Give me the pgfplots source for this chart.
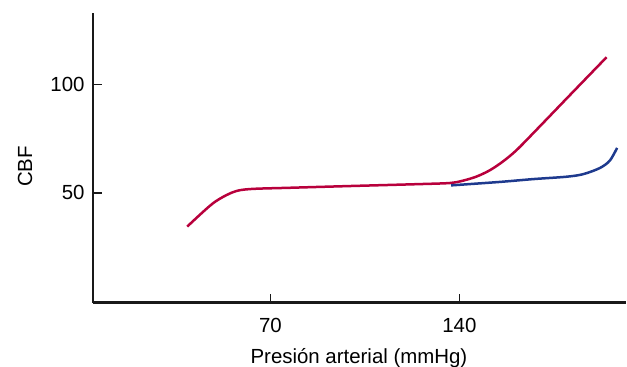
\documentclass[border=0pt]{standalone}
\usepackage{pgfplots}
\pgfplotsset{compat=1.18}
\usepackage{fontspec}
\setmainfont{Liberation Sans}
\definecolor{cred}{HTML}{B8003C}
\definecolor{cblue}{HTML}{1E3A8E}
\begin{document}
\begin{tikzpicture}
\begin{axis}[
  at={(0,0)}, anchor=south west,
  scale only axis, width=533bp, height=289.7bp,
  xmin=4.3, xmax=201.7, ymin=-0.7, ymax=132.9,
  axis lines*=left,
  axis line style={line width=2.8bp, black!90},
  xtick={70,140}, ytick={50,100},
  tick align=inside,
  major tick length=9bp,
  tick style={line width=1.5bp, black!90},
  font=\fontsize{20.5}{24}\selectfont,
  /pgf/number format/assume math mode=true,
  xticklabel style={anchor=base, yshift=-29.3bp},
  yticklabel style={xshift=-5bp},
  xlabel={Presión arterial (mmHg)},
  ylabel={CBF},
  every axis x label/.style={at={(axis description cs:0.499,0)}, anchor=base, yshift=-60.3bp},
  every axis y label/.style={at={(axis description cs:0,0.470)}, xshift=-68bp, rotate=90, anchor=center},
  clip=false,
]
\addplot[cred, line width=2.5bp, smooth, tension=0.5] coordinates {
(39.2,34.4) (48.8,45.2) (56.2,50.3) (62.4,51.7) (77.2,52.3) (99.4,53.1) (125.4,54.0) (136.5,54.5) (141.4,55.6) (146.4,57.5) (151.3,60.4) (156.2,64.5) (161.2,69.7) (168.6,79.1) (180.9,95.0) (194.5,112.5)
};
\addplot[cblue, line width=2.5bp, smooth, tension=0.5] coordinates {
(136.9,53.4) (155.0,55.0) (167.3,56.3) (179.7,57.4) (185.9,58.6) (192.0,61.4) (195.7,64.8) (198.4,70.7)
};
\end{axis}
\pgfresetboundingbox
\path (-93bp,-64.3bp) rectangle (534bp,302.7bp);
\end{tikzpicture}
\end{document}
